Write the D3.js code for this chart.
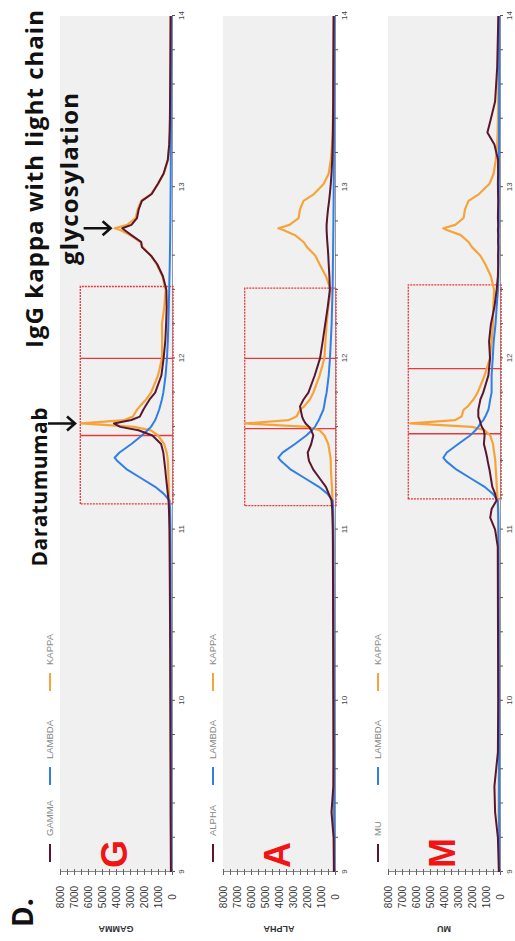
<!DOCTYPE html>
<html>
<head>
<meta charset="utf-8">
<script src="https://cdnjs.cloudflare.com/ajax/libs/d3/7.8.5/d3.min.js"></script>
<style>
  body { margin: 0; background: #fff; }
  svg { display: block; font-family: "Liberation Sans", Arial, sans-serif; }
</style>
</head>
<body>
<div id="chart"></div>
<script>
// retention/elution position (shared by all traces)
const xValues = [9.0, 9.2, 9.35, 9.5, 9.7, 10.0, 10.3, 10.6, 10.9, 11.0,
  11.07, 11.12, 11.17, 11.21, 11.25, 11.3, 11.35, 11.4, 11.42, 11.45,
  11.5, 11.55, 11.58, 11.6, 11.62, 11.64, 11.66, 11.7, 11.72, 11.76,
  11.8, 11.9, 12.0, 12.1, 12.2, 12.3, 12.4, 12.48, 12.55, 12.6,
  12.65, 12.68, 12.72, 12.75, 12.76, 12.78, 12.82, 12.87, 12.92, 12.96,
  13.02, 13.08, 13.16, 13.25, 13.32, 13.4, 13.5, 13.7, 14.0];

// GAMMA panel
const gammaHeavy = [80, 90, 100, 100, 110, 120, 130, 150, 170, 180,
  200, 220, 250, 300, 350, 420, 480, 550, 580, 620,
  780, 1400, 2400, 3700, 4150, 2900, 2300, 2050, 1900, 1600,
  1200, 760, 600, 480, 420, 380, 400, 650, 1050, 1500,
  2150, 2200, 2900, 3400, 3550, 2900, 2500, 2380, 2150, 1450,
  1000, 600, 300, 200, 170, 150, 140, 120, 100];
const gammaLambda = [40, 50, 50, 60, 60, 70, 80, 90, 100, 110,
  120, 130, 180, 600, 1200, 2200, 3200, 3900, 4100, 3750,
  2900, 2150, 1750, 1500, 1350, 1200, 1100, 920, 850, 720,
  620, 460, 360, 300, 260, 230, 200, 180, 160, 150,
  140, 135, 130, 125, 125, 120, 115, 110, 105, 100,
  95, 90, 85, 80, 75, 70, 65, 55, 45];
const gammaKappa = [60, 70, 80, 80, 90, 100, 110, 130, 150, 160,
  170, 190, 210, 220, 230, 250, 270, 300, 320, 380,
  560, 1000, 1500, 2700, 6500, 3400, 2800, 2500, 2300, 1850,
  1500, 1000, 720, 700, 720, 550, 450, 680, 1100, 1500,
  2100, 2250, 3000, 3700, 4100, 3200, 2600, 2450, 2200, 1500,
  1000, 580, 280, 180, 150, 140, 130, 110, 90];

// ALPHA panel
const alphaHeavy = [80, 100, 250, 120, 110, 120, 130, 140, 150, 160,
  180, 200, 250, 450, 650, 1100, 1550, 1850, 1900, 1950,
  1700, 1550, 1700, 1850, 2100, 2250, 2350, 2450, 2500, 2250,
  1900, 1450, 1070, 880, 700, 520, 370, 400, 450, 480,
  520, 550, 580, 600, 600, 600, 560, 500, 420, 370,
  300, 250, 200, 170, 150, 140, 130, 120, 100];
const alphaLambda = [40, 50, 60, 60, 60, 70, 80, 90, 100, 110,
  120, 130, 170, 550, 1150, 2150, 3150, 3850, 4050, 3750,
  2860, 2050, 1650, 1430, 1300, 1150, 1050, 830, 780, 700,
  600, 450, 360, 300, 240, 210, 170, 160, 150, 140,
  135, 130, 125, 120, 120, 115, 110, 105, 100, 95,
  90, 85, 80, 75, 70, 65, 60, 50, 40];
const alphaKappa = [60, 70, 120, 80, 90, 100, 110, 120, 130, 140,
  150, 160, 180, 200, 220, 260, 290, 300, 320, 380,
  480, 750, 1100, 2000, 6450, 3300, 2750, 2500, 2200, 1800,
  1550, 1100, 760, 680, 600, 480, 300, 650, 1100, 1400,
  2000, 2250, 2850, 3700, 4050, 3250, 2600, 2500, 2250, 1500,
  800, 450, 300, 200, 170, 150, 130, 110, 90];

// MU panel
const muHeavy = [80, 150, 350, 400, 150, 130, 140, 150, 160, 350,
  700, 600, 250, 350, 550, 650, 750, 880, 920, 1000,
  1150, 1100, 1150, 1300, 1380, 1450, 1550, 1550, 1500, 1400,
  1200, 830, 710, 780, 650, 400, 240, 150, 130, 140,
  120, 140, 130, 150, 140, 130, 150, 140, 130, 140,
  150, 140, 140, 400, 900, 650, 350, 200, 120];
const muLambda = [40, 50, 60, 60, 60, 70, 80, 90, 100, 110,
  120, 130, 160, 520, 1100, 2100, 3100, 3850, 4050, 3800,
  2980, 2140, 1750, 1550, 1400, 1190, 1050, 830, 780, 700,
  600, 600, 520, 450, 320, 240, 150, 120, 110, 100,
  100, 95, 95, 90, 90, 90, 85, 85, 80, 80,
  80, 75, 75, 70, 70, 65, 60, 55, 50];
const muKappa = [60, 70, 100, 90, 80, 90, 100, 110, 120, 130,
  140, 150, 170, 200, 230, 260, 300, 340, 360, 420,
  500, 700, 1100, 2000, 6400, 3200, 2750, 2600, 2300, 1900,
  1600, 1100, 720, 600, 500, 480, 420, 650, 1050, 1400,
  2000, 2250, 2800, 3800, 4050, 3200, 2600, 2500, 2250, 1500,
  750, 450, 300, 200, 170, 150, 130, 110, 90];

const panelNames = ["GAMMA", "ALPHA", "MU"];
const panelLetters = ["G", "A", "M"];
const valueTicks = [0, 1000, 2000, 3000, 4000, 5000, 6000, 7000, 8000];
const xTicks = [9, 10, 11, 12, 13, 14];

// red gating boxes (data units)
const boxFrom = [11.15, 11.14, 11.18];
const boxTo = [12.42, 12.41, 12.43];
const boxSplitA = [11.55, 11.59, 11.56];
const boxSplitB = [12.0, 12.0, 11.94];
const boxTop = [6550, 6450, 6550];

const heavySeries = [gammaHeavy, alphaHeavy, muHeavy];
const lambdaSeries = [gammaLambda, alphaLambda, muLambda];
const kappaSeries = [gammaKappa, alphaKappa, muKappa];

const colors = { heavy: "#5a1630", lambda: "#2f7fe6", kappa: "#f6a43a" };

const W = 515, H = 941;
const plotLen = 856, plotDepth = 112;
const panelLeft = [60, 223, 388];
const baseY = 872;

const svg = d3.select("#chart").append("svg")
    .attr("width", W)
    .attr("height", H);

// each panel drawn in its natural orientation, then turned a quarter left
let x = d3.scaleLinear().domain([9, 14]).range([0, plotLen]);
let y = d3.scaleLinear().domain([0, 8000]).range([plotDepth, 0]);

const line = d3.line()
    .x((d, j) => x(xValues[j]))
    .y(d => y(d));

panelNames.forEach((name, i) => {
    const g = svg.append("g")
        .attr("transform", "translate(" + panelLeft[i] + "," + baseY + ") rotate(-90)");

    g.append("rect")
        .attr("width", plotLen)
        .attr("height", plotDepth)
        .attr("fill", "#f0f0f0");

    // legend above the plot
    const legend = [
        { label: name, color: colors.heavy, at: 10 },
        { label: "LAMBDA", color: colors.lambda, at: 87 },
        { label: "KAPPA", color: colors.kappa, at: 181 }
    ];
    legend.forEach(l => {
        g.append("line")
            .attr("x1", l.at).attr("x2", l.at + 18)
            .attr("y1", -10).attr("y2", -10)
            .attr("stroke", l.color)
            .attr("stroke-width", 2);
        g.append("text")
            .attr("x", l.at + 26)
            .attr("y", -10)
            .attr("dominant-baseline", "middle")
            .attr("font-size", 9.5)
            .attr("fill", "#888")
            .text(l.label);
    });

    // x axis along the bottom edge
    const minor = d3.range(9, 14.001, 0.2).map(v => +v.toFixed(1));
    const xAxis = g.append("g")
        .attr("transform", "translate(0," + plotDepth + ")")
        .call(d3.axisBottom(x)
            .tickValues(minor)
            .tickSize(3)
            .tickFormat(d => xTicks.includes(d) ? d : ""));
    xAxis.select(".domain").attr("stroke", "#999");
    xAxis.selectAll(".tick line").attr("stroke", "#555");
    xAxis.selectAll("text").attr("font-size", 8).attr("fill", "#444");

    // value axis
    const yAxis = g.append("g")
        .call(d3.axisLeft(y)
            .tickValues(d3.range(0, 8001, 500))
            .tickSize(3)
            .tickFormat(d => valueTicks.includes(d) ? d : ""));
    yAxis.select(".domain").attr("stroke", "#888");
    yAxis.selectAll(".tick line").attr("stroke", "#666").attr("x2", 3).attr("x1", -3);
    yAxis.selectAll("text")
        .attr("x", -25)
        .style("text-anchor", "middle")
        .attr("font-size", 10)
        .attr("fill", "#333");

    g.append("text")
        .attr("transform", "translate(-56," + (plotDepth / 2) + ") rotate(-90)")
        .attr("text-anchor", "middle")
        .attr("dominant-baseline", "middle")
        .attr("font-size", 9)
        .attr("font-weight", "bold")
        .attr("fill", "#333")
        .text(name);

    // gating boxes
    g.append("rect")
        .attr("x", x(boxFrom[i]))
        .attr("y", y(boxTop[i]))
        .attr("width", x(boxTo[i]) - x(boxFrom[i]))
        .attr("height", y(-80) - y(boxTop[i]))
        .attr("fill", "none")
        .attr("stroke", "#e8383a")
        .attr("stroke-width", 1.3)
        .attr("stroke-dasharray", "2,1");
    [boxSplitA[i], boxSplitB[i]].forEach(s => {
        g.append("line")
            .attr("x1", x(s)).attr("x2", x(s))
            .attr("y1", y(boxTop[i])).attr("y2", y(-80))
            .attr("stroke", "#e8383a")
            .attr("stroke-width", 1.4);
    });

    // traces
    g.append("path").datum(kappaSeries[i])
        .attr("d", line)
        .attr("fill", "none")
        .attr("stroke", colors.kappa)
        .attr("stroke-width", 2.2)
        .attr("stroke-linejoin", "round");
    g.append("path").datum(lambdaSeries[i])
        .attr("d", line)
        .attr("fill", "none")
        .attr("stroke", colors.lambda)
        .attr("stroke-width", 2)
        .attr("stroke-linejoin", "round");
    g.append("path").datum(heavySeries[i])
        .attr("d", line)
        .attr("fill", "none")
        .attr("stroke", colors.heavy)
        .attr("stroke-width", 2)
        .attr("stroke-linejoin", "round");

    g.append("text")
        .attr("x", 4)
        .attr("y", 67)
        .attr("font-size", 36)
        .attr("font-weight", "bold")
        .attr("fill", "#f01414")
        .text(panelLetters[i]);
});

// annotations (image coordinates derived from the GAMMA panel scales)
const imgX = v => panelLeft[0] + y(v);
const imgY = xv => baseY - x(xv);

function arrow(tipX, tipY, len) {
    svg.append("path")
        .attr("d", "M" + (tipX - len) + "," + tipY + "H" + tipX +
            "M" + (tipX - 8) + "," + (tipY - 7) + "L" + tipX + "," + tipY + "L" + (tipX - 8) + "," + (tipY + 7))
        .attr("fill", "none")
        .attr("stroke", "#111")
        .attr("stroke-width", 2.6);
}
arrow(imgX(6500) - 6, imgY(11.62), 27);
arrow(imgX(4100) - 4, imgY(12.76), 27);

const note = svg.append("g")
    .attr("font-family", "'Open Sans', sans-serif")
    .attr("font-weight", "bold")
    .attr("fill", "#111");
note.append("text")
    .attr("transform", "translate(47,487) rotate(-90)")
    .attr("text-anchor", "middle")
    .attr("font-size", 21)
    .attr("textLength", 159)
    .text("Daratumumab");
note.append("text")
    .attr("transform", "translate(43,179) rotate(-90)")
    .attr("text-anchor", "middle")
    .attr("font-size", 24)
    .attr("textLength", 338)
    .text("IgG kappa with light chain");
note.append("text")
    .attr("transform", "translate(78,179) rotate(-90)")
    .attr("text-anchor", "middle")
    .attr("font-size", 24)
    .attr("textLength", 172)
    .text("glycosylation");
note.append("text")
    .attr("transform", "translate(33,927) rotate(-90)")
    .attr("font-size", 28)
    .text("D.");
</script>
</body>
</html>
